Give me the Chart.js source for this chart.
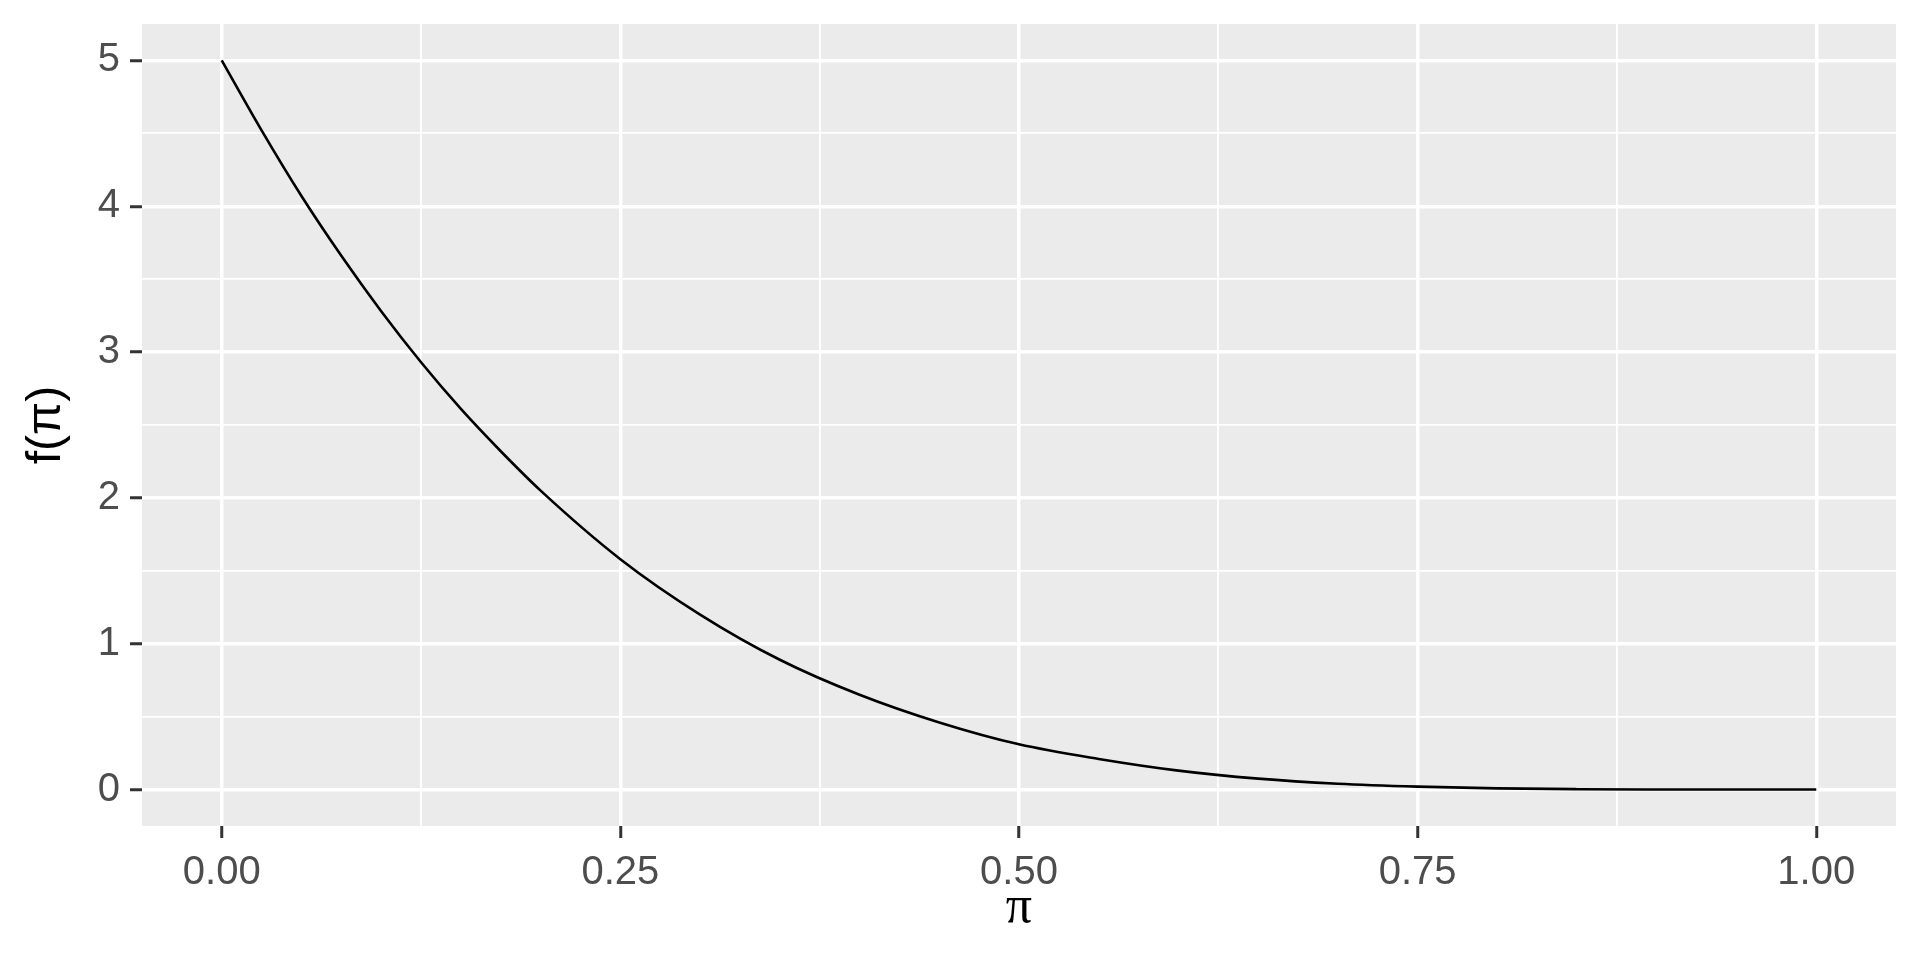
<!DOCTYPE html>
<html>
<head>
<meta charset="utf-8">
<script src="https://cdn.jsdelivr.net/npm/chart.js@4"></script>
<style>
  html, body { margin: 0; padding: 0; background: #fff; }
  #wrap { width: 1920px; height: 960px; }
</style>
</head>
<body>
<div id="wrap"><canvas id="chart1"></canvas></div>
<script>
// values
var piVals = [0, 0.025, 0.05, 0.075, 0.1, 0.125, 0.15, 0.175, 0.2, 0.25, 0.3, 0.35, 0.4, 0.45, 0.5,
  0.55, 0.6, 0.65, 0.7, 0.75, 0.8, 0.85, 0.9, 0.95, 1.0];
var densityVals = [5.0, 4.52, 4.07, 3.66, 3.28, 2.93, 2.61, 2.32, 2.05, 1.58, 1.20, 0.89, 0.65, 0.46, 0.31,
  0.21, 0.13, 0.075, 0.04, 0.02, 0.008, 0.0025, 0.0005, 0.0, 0.0];
var xTicks = [0, 0.25, 0.5, 0.75, 1];
var xTickLabels = ['0.00', '0.25', '0.50', '0.75', '1.00'];
var yTicks = [0, 1, 2, 3, 4, 5];

var panelBg = '#EBEBEB';
var tickCol = '#4D4D4D';

function isMajor(v, list) {
  return list.some(t => Math.abs(t - v) < 1e-6);
}

// grey panel behind the grid
var panelPlugin = {
  id: 'panel',
  beforeDraw(chart) {
    var a = chart.chartArea, c = chart.ctx;
    c.save();
    c.fillStyle = panelBg;
    c.fillRect(a.left, a.top, a.right - a.left, a.bottom - a.top);
    c.restore();
  }
};

const ctx1 = document.getElementById('chart1');
const lineChart1 = new Chart(ctx1, {
  type: 'line',
  data: {
    datasets: [{
      data: piVals.map((x, i) => ({ x: x, y: densityVals[i] })),
      borderColor: '#000000',
      borderWidth: 2.6,
      pointRadius: 0,
      cubicInterpolationMode: 'monotone',
      fill: false
    }]
  },
  options: {
    responsive: true,
    maintainAspectRatio: false,
    animation: false,
    layout: { padding: { top: 24, right: 24, left: 0, bottom: 0 } },
    plugins: { legend: { display: false }, tooltip: { enabled: false } },
    scales: {
      x: {
        type: 'linear',
        min: -0.05,
        max: 1.05,
        afterBuildTicks(scale) {
          var t = [];
          for (var v = 0; v <= 1.0001; v += 0.125) t.push({ value: Math.round(v * 1000) / 1000 });
          scale.ticks = t;
        },
        afterFit(scale) {
          scale.height = 134;
          scale.paddingLeft = 0;
          scale.paddingRight = 0;
        },
        border: { display: false },
        grid: {
          color: '#FFFFFF',
          lineWidth: c => isMajor(c.tick.value, xTicks) ? 3.5 : 1.8,
          tickLength: 12,
          tickColor: c => isMajor(c.tick.value, xTicks) ? '#333333' : 'rgba(0,0,0,0)',
          tickWidth: 3
        },
        ticks: {
          autoSkip: false,
          maxRotation: 0,
          padding: 11,
          color: tickCol,
          font: { family: 'Liberation Sans, Arial, sans-serif', size: 40 },
          callback: v => {
            var i = xTicks.findIndex(t => Math.abs(t - v) < 1e-6);
            return i >= 0 ? xTickLabels[i] : '';
          }
        },
        title: {
          display: true,
          text: 'π',
          color: '#000000',
          padding: { top: 0, bottom: 20 },
          font: { family: 'Liberation Serif, DejaVu Serif, serif', size: 52 }
        }
      },
      y: {
        type: 'linear',
        min: -0.25,
        max: 5.25,
        afterBuildTicks(scale) {
          var t = [];
          for (var v = 0; v <= 5.0001; v += 0.5) t.push({ value: Math.round(v * 10) / 10 });
          scale.ticks = t;
        },
        afterFit(scale) {
          scale.width = 142;
          scale.paddingTop = 0;
          scale.paddingBottom = 0;
        },
        border: { display: false },
        grid: {
          color: '#FFFFFF',
          lineWidth: c => isMajor(c.tick.value, yTicks) ? 3.5 : 1.8,
          tickLength: 12,
          tickColor: c => isMajor(c.tick.value, yTicks) ? '#333333' : 'rgba(0,0,0,0)',
          tickWidth: 3
        },
        ticks: {
          autoSkip: false,
          padding: 10,
          color: tickCol,
          font: { family: 'Liberation Sans, Arial, sans-serif', size: 40 },
          callback: v => isMajor(v, yTicks) ? String(v) : ''
        },
        title: {
          display: true,
          text: 'f(π)',
          color: '#000000',
          padding: { top: 18, bottom: 0 },
          font: { family: 'Liberation Sans, Arial, sans-serif', size: 48 }
        }
      }
    }
  },
  plugins: [panelPlugin]
});
</script>
</body>
</html>
